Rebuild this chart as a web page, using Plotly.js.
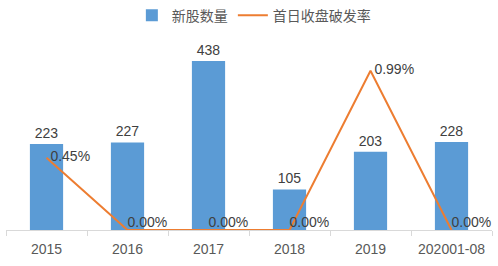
<!DOCTYPE html>
<html><head><meta charset="utf-8">
<script src="https://cdn.plot.ly/plotly-3.0.1.min.js"></script>
<style>body{margin:0;background:#fff}#c{width:498px;height:266px}</style>
</head><body><div id="c"></div>
<script>
const categories = ['2015','2016','2017','2018','2019','202001-08'];
const ipoCount = [223, 227, 438, 105, 203, 228];
const breakRate = [0.45, 0.00, 0.00, 0.00, 0.99, 0.00];
const seriesNames = ['新股数量', '首日收盘破发率'];

const font = '"Liberation Sans", "Noto Sans CJK SC", sans-serif';
const bars = {
  type: 'bar', x: categories, y: ipoCount, name: seriesNames[0],
  marker: {color: '#5B9BD5'}, width: 0.41,
  text: ipoCount.map(String), textposition: 'outside', cliponaxis: false,
  textfont: {size: 14, color: '#404040', family: font},
  hoverinfo: 'skip'
};
const line = {
  type: 'scatter', mode: 'lines+text', x: categories, y: breakRate, yaxis: 'y2',
  name: seriesNames[1], line: {color: '#ED7D31', width: 2},
  text: breakRate.map(v => (v > 0 ? '\u00a0' : '') + v.toFixed(2) + '%'),
  textposition: breakRate.map(v => v > 0 ? 'middle right' : 'top right'),
  textfont: {size: 14, color: '#404040', family: font}, cliponaxis: false,
  hoverinfo: 'skip'
};
Plotly.newPlot('c', [bars, line], {
  width: 498, height: 266,
  margin: {l: 6, r: 6, t: 37, b: 36, autoexpand: false},
  paper_bgcolor: '#fff', plot_bgcolor: '#fff',
  font: {family: font, color: '#595959', size: 13},
  showlegend: true,
  legend: {orientation: 'h', x: 0.51, xanchor: 'center', y: 1.11, yanchor: 'middle',
    font: {size: 14, color: '#595959', family: '"Noto Sans CJK SC", sans-serif'},
    tracegroupgap: 0},
  bargap: 0.59,
  xaxis: {type: 'category', showline: true, linecolor: '#D9D9D9', linewidth: 1,
    ticks: 'outside', tickson: 'boundaries', ticklen: 5, tickcolor: '#D9D9D9',
    ticklabelstandoff: 6,
    tickfont: {size: 14, color: '#595959'}, showgrid: false, zeroline: false},
  yaxis: {range: [0, 500], visible: false, showgrid: false, zeroline: false},
  yaxis2: {range: [0, 1.2], overlaying: 'y', side: 'right', visible: false, showgrid: false, zeroline: false}
}, {displayModeBar: false, staticPlot: true});
</script></body></html>
